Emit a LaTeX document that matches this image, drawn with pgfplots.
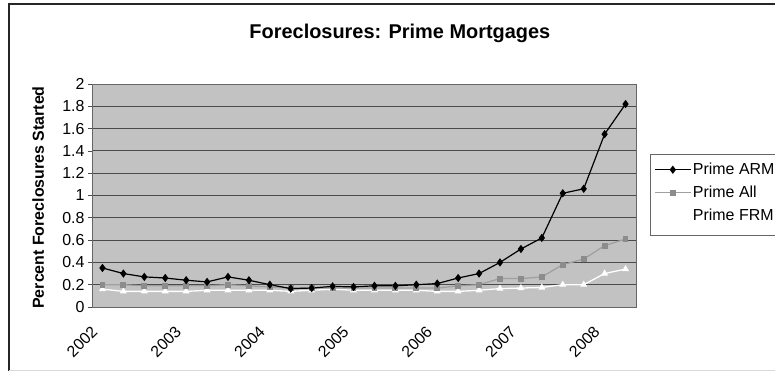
\documentclass[border=0pt]{standalone}
\usepackage{fontspec}
\setmainfont{Liberation Sans}
\usepackage{pgfplots}
\usepackage{pgfplotstable}
\pgfplotsset{compat=1.18}
\definecolor{plotbg}{HTML}{C2C2C2}
\definecolor{gridc}{HTML}{4A4A4A}
\definecolor{allc}{HTML}{A0A0A0}
\definecolor{allm}{HTML}{8C8C8C}

\pgfplotstableread{
i arm all frm
0 0.35 0.20 0.16
1 0.30 0.20 0.14
2 0.27 0.19 0.14
3 0.26 0.19 0.14
4 0.24 0.19 0.14
5 0.225 0.19 0.15
6 0.27 0.20 0.15
7 0.24 0.19 0.15
8 0.20 0.18 0.15
9 0.165 0.17 0.14
10 0.17 0.17 0.15
11 0.185 0.17 0.16
12 0.18 0.17 0.15
13 0.19 0.17 0.15
14 0.19 0.17 0.15
15 0.20 0.17 0.15
16 0.21 0.17 0.14
17 0.26 0.19 0.14
18 0.30 0.20 0.15
19 0.40 0.255 0.165
20 0.52 0.255 0.17
21 0.62 0.27 0.175
22 1.02 0.38 0.20
23 1.06 0.43 0.20
24 1.55 0.55 0.30
25 1.82 0.61 0.34
}\datatable

\pgfplotsset{
  armstyle/.style={black, line width=1.2bp, mark=diamond*, mark size=3.2bp, mark options={fill=black}},
  allstyle/.style={allc, line width=1.3bp, mark=square*, mark size=2.3bp, mark options={fill=allm, draw=allm}},
  frmstyle/.style={white, line width=1.3bp, mark=triangle*, mark size=2.8bp, mark options={fill=white, draw=white}},
}

\begin{document}
\begin{tikzpicture}
\useasboundingbox (0bp,0bp) rectangle (775bp,375bp);
\fill[white] (0bp,0bp) rectangle (775bp,375bp);
\draw[black!85, line width=1.2bp] (9bp,4bp) -- (9bp,371bp) -- (780bp,371bp);
\draw[black!15, line width=1bp] (9bp,4bp) -- (780bp,4bp);
% legend frame
\draw[black!60, line width=0.8bp, fill=white] (650bp,140bp) rectangle (790bp,221bp);
\begin{axis}[
  at={(92bp,68bp)}, anchor=south west,
  width=544bp, height=223bp, scale only axis,
  xmin=-0.5, xmax=25.5, ymin=0, ymax=2,
  axis background/.style={fill=plotbg},
  axis line style={draw=black!60, line width=0.8bp},
  /pgf/number format/assume math mode=true,
  ticklabel style={font=\fontsize{16}{16}\selectfont},
  xtick=\empty,
  minor xtick={-0.5,0.5,...,25.5},
  ytick={0,0.2,0.4,0.6,0.8,1,1.2,1.4,1.6,1.8,2},
  yticklabels={0,0.2,0.4,0.6,0.8,1,1.2,1.4,1.6,1.8,2},
  tick align=outside,
  major tick length=4bp,
  minor tick length=4bp,
  tick style={draw=black!70, line width=0.6bp},
  minor tick style={draw=black!70, line width=0.6bp},
  xtick pos=bottom, ytick pos=left,
  ymajorgrids,
  major grid style={draw=gridc, line width=0.8bp},
  extra x ticks={0,4,8,12,16,20,24},
  extra x tick labels={2002,2003,2004,2005,2006,2007,2008},
  extra x tick style={major tick length=0pt, grid=none,
    tick label style={xshift=-7.7bp, yshift=-22bp, rotate=45, anchor=east, inner sep=0pt}},
  title={Foreclosures: Prime Mortgages},
  title style={at={(0.566,1.2016)}, anchor=center, font=\bfseries\fontsize{20}{24}\selectfont},
  ylabel={Percent Foreclosures Started},
  ylabel style={at={(-0.099,0.491)}, anchor=center, font=\bfseries\fontsize{16}{19}\selectfont},
  legend style={at={(1.0257,0.686)}, anchor=north west, draw=none, fill=none,
    font=\fontsize{16}{19}\selectfont, inner sep=4bp, row sep=0pt,
    nodes={inner xsep=1.5bp, inner ysep=5bp}},
  legend cell align=left,
  legend image code/.code={\draw[mark repeat=2, mark phase=2, #1] plot coordinates {(0bp,0bp) (18bp,0bp) (36bp,0bp)};},
]
\addlegendimage{armstyle}
\addlegendentry{Prime ARM}
\addlegendimage{allstyle}
\addlegendentry{Prime All}
\addlegendimage{frmstyle}
\addlegendentry{Prime FRM}
\addplot[frmstyle, forget plot] table[x=i, y=frm] {\datatable};
\addplot[allstyle, forget plot] table[x=i, y=all] {\datatable};
\addplot[armstyle, forget plot] table[x=i, y=arm] {\datatable};
\end{axis}
\end{tikzpicture}
\end{document}
